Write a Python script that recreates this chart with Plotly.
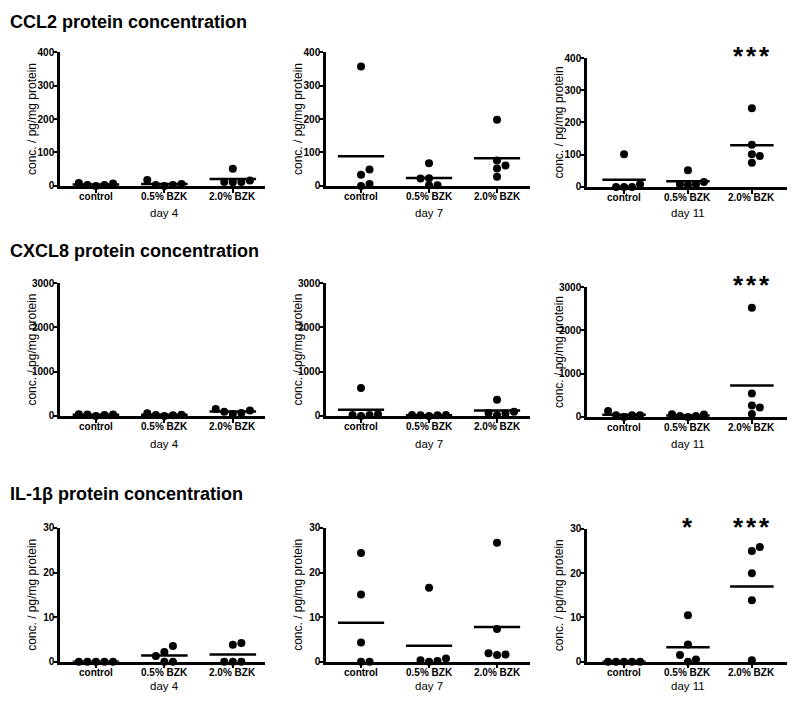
import numpy as np
import plotly.graph_objects as go

# ---------------- data ----------------
groups = ["control", "0.5% BZK", "2.0% BZK"]
days = ["day 4", "day 7", "day 11"]
titles = ["CCL2 protein concentration", "CXCL8 protein concentration", "IL-1β protein concentration"]

ccl2_day4 = [[9, 3, 0, 3, 7], [18, 3, 0, 3, 6], [51, 12, 11, 12, 16]]
ccl2_day7 = [[357, 49, 33, 0, 6], [68, 22, 2, 2, 23], [198, 76, 61, 52, 27]]
ccl2_day11 = [[101, 0, 0, 0, 8], [52, 8, 5, 8, 15], [244, 131, 101, 96, 75]]

cxcl8_day4 = [[40, 30, 0, 20, 30], [60, 20, 0, 15, 25], [155, 96, 44, 66, 125]]
cxcl8_day7 = [[630, 22, 0, 22, 37], [22, 15, 0, 15, 22], [363, 59, 15, 67, 96]]
cxcl8_day11 = [[136, 38, 0, 38, 38], [60, 23, 0, 23, 53], [2524, 544, 265, 219, 68]]

il1b_day4 = [[0, 0, 0, 0, 0], [3.5, 2.2, 1.25, 0, 0], [4.2, 3.8, 0, 0, 0]]
il1b_day7 = [[24.4, 15.1, 4.3, 0, 0], [16.6, 0.3, 0, 0.15, 0.7], [26.7, 7.35, 1.9, 1.5, 1.6]]
il1b_day11 = [[0, 0, 0, 0, 0], [10.5, 3.9, 1.5, 0, 0.5], [25.9, 25.0, 20.0, 13.9, 0.3]]

ccl2_sig = [["", "", ""], ["", "", ""], ["", "", "***"]]
cxcl8_sig = [["", "", ""], ["", "", ""], ["", "", "***"]]
il1b_sig = [["", "", ""], ["", "", ""], ["", "*", "***"]]

y_max = [400, 3000, 30]
y_step = [100, 1000, 10]

rows = [
    (titles[0], [ccl2_day4, ccl2_day7, ccl2_day11], ccl2_sig),
    (titles[1], [cxcl8_day4, cxcl8_day7, cxcl8_day11], cxcl8_sig),
    (titles[2], [il1b_day4, il1b_day7, il1b_day11], il1b_sig),
]

# ---------------- layout geometry (pixels) ----------------
W, H = 800, 707
col_x = [(60, 265), (326, 530), (587, 787)]
col_range = [(-0.525, 2.47), (-0.515, 2.485), (-0.58, 2.55)]
# (top, bottom) of each plot area per row / column
row_y = [
    [(47, 183), (47, 183), (53, 184)],
    [(282, 417), (282, 417), (286, 418)],
    [(531, 667), (531, 667), (532, 667)],
]
title_y = [16, 249, 496]
day_y = [211, 446, 692]
LABEL_GAP = 10.5  # px from x-axis line to centre of category labels

FONT = "Arial, Liberation Sans, Helvetica, sans-serif"
SLOT = 0.125      # horizontal jitter step (category units)
HALF = 0.34       # half width of the mean line
DOT = 8           # marker diameter (px)
STAR_GAP = 13     # px between asterisks


def swarm(values, px_per_unit):
    """simple column-scatter: stack colliding points into side slots"""
    order = np.argsort(values, kind="stable")
    cand = [0, 1, -1, 2, -2, 3, -3]
    placed = {}
    slots = [0] * len(values)
    for idx in order:
        yp = values[idx] * px_per_unit
        for s in cand:
            if all(abs(yp - q) >= DOT - 1 for q in placed.get(s, [])):
                placed.setdefault(s, []).append(yp)
                slots[idx] = s
                break
    return slots


fig = go.Figure()
annotations = []
layout = {}

for r, (title, per_day, sig) in enumerate(rows):
    annotations.append(dict(
        text=title, x=8 / W, y=1 - title_y[r] / H, xref="paper", yref="paper",
        xanchor="left", yanchor="middle", showarrow=False,
        font=dict(family=FONT, size=18, color="black", weight="bold")))
    for c in range(3):
        n = r * 3 + c + 1
        xs = "" if n == 1 else str(n)
        top, bot = row_y[r][c]
        x0, x1 = col_x[c]
        px_per_unit = (bot - top) / y_max[r]
        data = per_day[c]
        for g, vals in enumerate(data):
            slots = swarm(vals, px_per_unit)
            fig.add_trace(go.Scatter(
                x=[g + s * SLOT for s in slots], y=vals, mode="markers",
                marker=dict(color="black", size=DOT, line=dict(width=0)),
                cliponaxis=False, xaxis="x" + xs, yaxis="y" + xs,
                showlegend=False, hoverinfo="skip"))
            m = float(np.mean(vals))
            fig.add_trace(go.Scatter(
                x=[g - HALF, g + HALF], y=[m, m], mode="lines",
                line=dict(color="black", width=2.5),
                cliponaxis=False, xaxis="x" + xs, yaxis="y" + xs,
                showlegend=False, hoverinfo="skip"))
            k = len(sig[c][g])
            for j, ch in enumerate(sig[c][g]):
                annotations.append(dict(
                    text=ch, x=g, y=y_max[r], xref="x" + xs, yref="y" + xs,
                    xanchor="center", yanchor="middle", showarrow=False,
                    xshift=(j - (k - 1) / 2) * STAR_GAP, yshift=2,
                    font=dict(family=FONT, size=26, color="black", weight="bold")))
            # category label
            annotations.append(dict(
                text=groups[g], x=g, y=1 - (bot + LABEL_GAP) / H,
                xref="x" + xs, yref="paper", xanchor="center", yanchor="middle",
                showarrow=False,
                font=dict(family=FONT, size=10, color="black", weight="bold")))
        layout["xaxis" + xs] = dict(
            domain=[x0 / W, x1 / W], range=list(col_range[c]), anchor="y" + xs,
            tickmode="array", tickvals=[0, 1, 2], showticklabels=False,
            showline=True, linewidth=2.5, linecolor="black",
            ticks="outside", ticklen=4, tickwidth=2, tickcolor="black",
            showgrid=False, zeroline=False, fixedrange=True)
        layout["yaxis" + xs] = dict(
            domain=[1 - bot / H, 1 - top / H], range=[0, y_max[r]], anchor="x" + xs,
            tick0=0, dtick=y_step[r],
            showline=True, linewidth=2.5, linecolor="black",
            ticks="outside", ticklen=4, tickwidth=2, tickcolor="black",
            tickfont=dict(family=FONT, size=10, color="black", weight="bold"),
            showgrid=False, zeroline=False, fixedrange=True)
        annotations.append(dict(
            text="conc. / pg/mg protein", x=(x0 - 28) / W, y=1 - (top + bot) / 2 / H,
            xref="paper", yref="paper", xanchor="center", yanchor="middle",
            textangle=-90, showarrow=False,
            font=dict(family=FONT, size=12, color="black")))
        annotations.append(dict(
            text=days[c], x=1, y=1 - day_y[r] / H, xref="x" + xs, yref="paper",
            xanchor="center", yanchor="middle", showarrow=False,
            font=dict(family=FONT, size=11.5, color="black")))

fig.update_layout(
    width=W, height=H, margin=dict(l=0, r=0, t=0, b=0),
    paper_bgcolor="white", plot_bgcolor="white",
    showlegend=False, annotations=annotations, **layout)

# pull the y tick labels closer to the axis line (as in the reference)
try:
    for n in range(1, 10):
        fig.layout["yaxis" + ("" if n == 1 else str(n))].ticklabelstandoff = -3
except Exception:
    pass

fig.write_html("out.html", config={"displayModeBar": False},
               post_script="document.body.style.margin='0px';document.body.style.overflow='hidden';")
